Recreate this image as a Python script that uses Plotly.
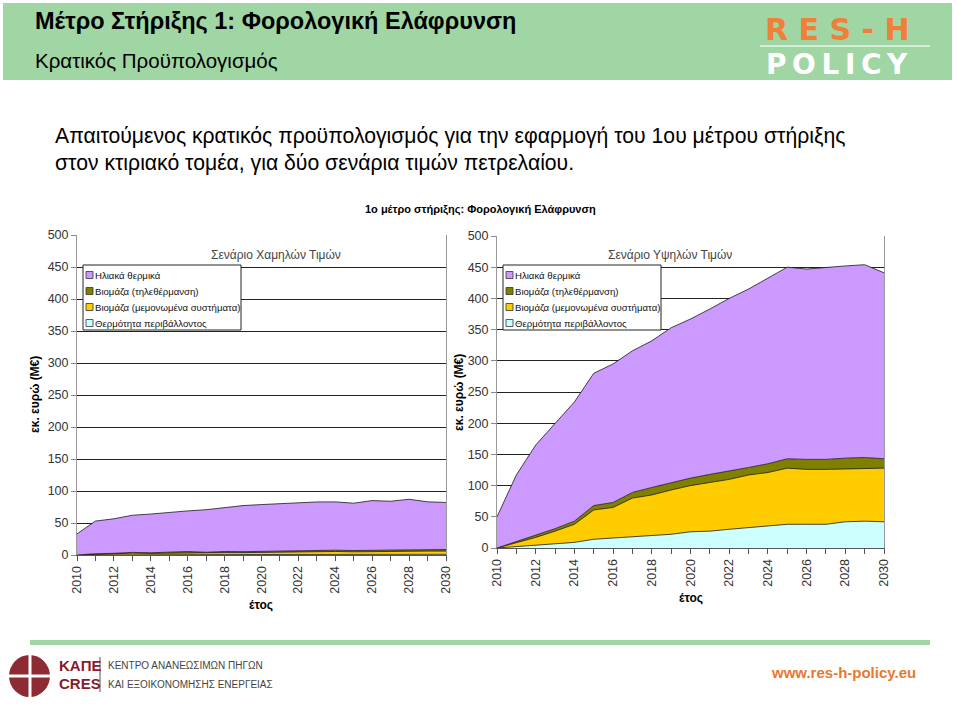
import plotly.graph_objects as go

# ---------------- data ----------------
years = list(range(2010, 2031))
series_names = ["Θερμότητα περιβάλλοντος", "Βιομάζα (μεμονωμένα συστήματα)",
                "Βιομάζα (τηλεθέρμανση)", "Ηλιακά θερμικά"]
series_colors = ["#CCFFFF", "#FFCC00", "#808000", "#CC99FF"]

# Low oil price scenario (M€)
low_ambient = [0, 0.2, 0.3, 0.4, 0.5, 0.5, 0.6, 0.6, 0.7, 0.7, 0.8, 0.8, 0.9, 0.9, 1, 1, 1, 1, 1.1, 1.1, 1.1]
low_biomass_single = [0, 1, 1.5, 2.5, 2, 2.5, 3, 2.5, 3, 3, 3.5, 3.5, 4, 4, 4.5, 4, 4.5, 4.5, 5, 5, 5]
low_biomass_district = [0, 0.8, 0.8, 1.2, 1, 1.5, 1.8, 1.2, 1.8, 1.5, 1.5, 1.8, 2, 2, 2, 2, 2, 2, 2, 2, 2.5]
low_solar = [33, 51, 54, 58, 60.5, 62.5, 63.5, 66.5, 68.5, 72, 73, 74, 74, 76, 75.5, 74, 77.5, 76.5, 79, 75, 73.5]

# High oil price scenario (M€)
high_ambient = [0, 2, 4, 6, 9, 14, 16, 18, 20, 22, 26, 27, 30, 33, 35, 38, 38, 38, 42, 43, 42]
high_biomass_single = [0, 6, 13, 21, 29, 47, 49, 62, 65, 71, 74, 78, 80, 84, 86, 90, 88, 88, 85, 85, 86]
high_biomass_district = [0, 2, 3, 4, 5, 7, 8, 9, 12, 12, 12, 13, 13, 12, 14, 15, 16, 16, 17, 17, 15]
high_solar = [50, 107, 145, 168, 191, 212, 222, 227, 235, 248, 255, 265, 277, 286, 297, 307, 305, 308, 308, 309, 298]

low_series = [low_ambient, low_biomass_single, low_biomass_district, low_solar]
high_series = [high_ambient, high_biomass_single, high_biomass_district, high_solar]

y_ticks = [0, 50, 100, 150, 200, 250, 300, 350, 400, 450, 500]
x_ticks = list(range(2010, 2031, 2))

W, H = 959, 708
def px(x): return x / W
def py(y): return 1 - y / H

FONT = "Liberation Sans, Arial, sans-serif"

fig = go.Figure()

for i, (name, color) in enumerate(zip(series_names, series_colors)):
    fig.add_trace(go.Scatter(
        x=years, y=low_series[i], name=name, stackgroup="low", mode="lines",
        line=dict(color="#1a1a1a", width=0.8), fillcolor=color,
        xaxis="x", yaxis="y", showlegend=False, hoverinfo="x+y+name"))
for i, (name, color) in enumerate(zip(series_names, series_colors)):
    fig.add_trace(go.Scatter(
        x=years, y=high_series[i], name=name, stackgroup="high", mode="lines",
        line=dict(color="#1a1a1a", width=0.8), fillcolor=color,
        xaxis="x2", yaxis="y2", showlegend=False, hoverinfo="x+y+name"))

def xaxis(domain, anchor):
    return dict(domain=domain, anchor=anchor, range=[2010, 2030],
                tickmode="array", tickvals=x_ticks, ticktext=[str(v) for v in x_ticks],
                tickangle=-90, ticks="outside", ticklen=5, tickcolor="#555",
                minor=dict(tickmode="linear", tick0=2010, dtick=1, ticks="outside",
                           ticklen=5, tickcolor="#555", showgrid=False),
                showline=True, linecolor="#555", linewidth=1, mirror=False,
                showgrid=False, zeroline=False,
                tickfont=dict(family=FONT, size=12.5, color="#333"), fixedrange=True)

def yaxis(domain, anchor):
    return dict(domain=domain, anchor=anchor, range=[0, 500],
                tickmode="array", tickvals=y_ticks, ticks="outside", ticklen=5,
                tickcolor="#888", showline=True, linecolor="#999", linewidth=1,
                mirror=True, showgrid=True, gridcolor="#222", gridwidth=1,
                zeroline=False, tickfont=dict(family=FONT, size=12.5, color="#333"),
                fixedrange=True)

fig.update_layout(
    width=W, height=H, margin=dict(l=0, r=0, t=0, b=0, autoexpand=False),
    paper_bgcolor="white", plot_bgcolor="white", showlegend=False,
    xaxis=xaxis([px(77), px(446)], "y"),
    yaxis=yaxis([py(555), py(235)], "x"),
    xaxis2=xaxis([px(497), px(884)], "y2"),
    yaxis2=yaxis([py(548), py(236)], "x2"),
)

def rect(x0, y0, x1, y1, fill, line_color=None, lw=0, layer="above"):
    return dict(type="rect", xref="paper", yref="paper", x0=px(x0), x1=px(x1), y0=py(y1), y1=py(y0),
                fillcolor=fill, line=dict(color=line_color or fill, width=lw), layer=layer)

def line(x0, y0, x1, y1, color, w):
    return dict(type="line", xref="paper", yref="paper", x0=px(x0), x1=px(x1), y0=py(y0), y1=py(y1),
                line=dict(color=color, width=w))

shapes = [
    rect(3, 3, 952, 80, "#a0d6a3", layer="below"),      # header band
    line(760, 46, 930, 46, "#e8f4e8", 1.5),              # logo separator
    rect(30, 640, 930, 645, "#a0d6a3"),                  # footer green line
    dict(type="circle", xref="paper", yref="paper", x0=px(9), x1=px(50), y0=py(697), y1=py(655),
         fillcolor="#8e2a33", line=dict(width=0)),
    line(30, 652, 30, 699, "white", 3),
    line(7, 676, 52, 676, "white", 3),
    line(100, 657, 100, 692, "#555", 1),
]

annotations = []

def ann(x, y, text, size, color="#000", bold=False, xanchor="left", yanchor="middle",
        family=FONT, angle=0):
    return dict(xref="paper", yref="paper", x=px(x), y=py(y), text=("<b>%s</b>" % text) if bold else text,
                showarrow=False, xanchor=xanchor, yanchor=yanchor, textangle=angle,
                font=dict(family=family, size=size, color=color))

# custom legends (boxes in each chart)
legend_order = [3, 2, 1, 0]
for lx in (83, 503):
    shapes.append(rect(lx, 265, lx + 158, 330, "white", "#222", 1))
    for k, idx in enumerate(legend_order):
        yc = 275 + 16 * k
        shapes.append(rect(lx + 3, yc - 3.5, lx + 10, yc + 3.5, series_colors[idx], "#333", 0.8))
        annotations.append(ann(lx + 10, yc, series_names[idx], 9.6, "#111"))

annotations += [
    ann(33, 21, "Μέτρο Στήριξης 1: Φορολογική Ελάφρυνση", 23.5, "#000", bold=True),
    ann(33, 60, "Κρατικός Προϋπολογισμός", 20.5, "#000"),
    ann(837, 29, "R E S - H", 30, "#f07f3a", bold=True, xanchor="center",
        family="DejaVu Sans, sans-serif"),
    ann(837, 64, "P\u2009O\u2009L\u2009I\u2009C\u2009Y", 28, "white", bold=True, xanchor="center",
        family="DejaVu Sans, sans-serif"),
    ann(53, 136, "Απαιτούμενος κρατικός προϋπολογισμός για την εφαρμογή του 1ου μέτρου στήριξης", 21.2, "#000"),
    ann(53, 163, "στον κτιριακό τομέα, για δύο σενάρια τιμών πετρελαίου.", 21.2, "#000"),
    ann(480, 209, "1ο μέτρο στήριξης: Φορολογική Ελάφρυνση", 11, "#000", bold=True, xanchor="center"),
    ann(276, 255, "Σενάριο Χαμηλών Τιμών", 12, "#444", xanchor="center"),
    ann(670, 255, "Σενάριο Υψηλών Τιμών", 12, "#444", xanchor="center"),
    ann(35, 395, "εκ. ευρώ (Μ€)", 12, "#000", bold=True, xanchor="center", angle=-90),
    ann(459, 393, "εκ. ευρώ (Μ€)", 12, "#000", bold=True, xanchor="center", angle=-90),
    ann(261, 605, "έτος", 12, "#000", bold=True, xanchor="center"),
    ann(691, 598, "έτος", 12, "#000", bold=True, xanchor="center"),
    ann(57, 665, "ΚΑΠΕ", 15, "#8b1a2b", bold=True),
    ann(57, 683, "CRES", 15, "#8b1a2b", bold=True),
    ann(106, 665, "ΚΕΝΤΡΟ ΑΝΑΝΕΩΣΙΜΩΝ ΠΗΓΩΝ", 10, "#444"),
    ann(106, 684, "ΚΑΙ ΕΞΟΙΚΟΝΟΜΗΣΗΣ ΕΝΕΡΓΕΙΑΣ", 10, "#444"),
    ann(918, 672, "www.res-h-policy.eu", 15, "#e8782f", bold=True, xanchor="right"),
]
fig.update_layout(shapes=shapes, annotations=annotations)

fig.write_html("out.html")
